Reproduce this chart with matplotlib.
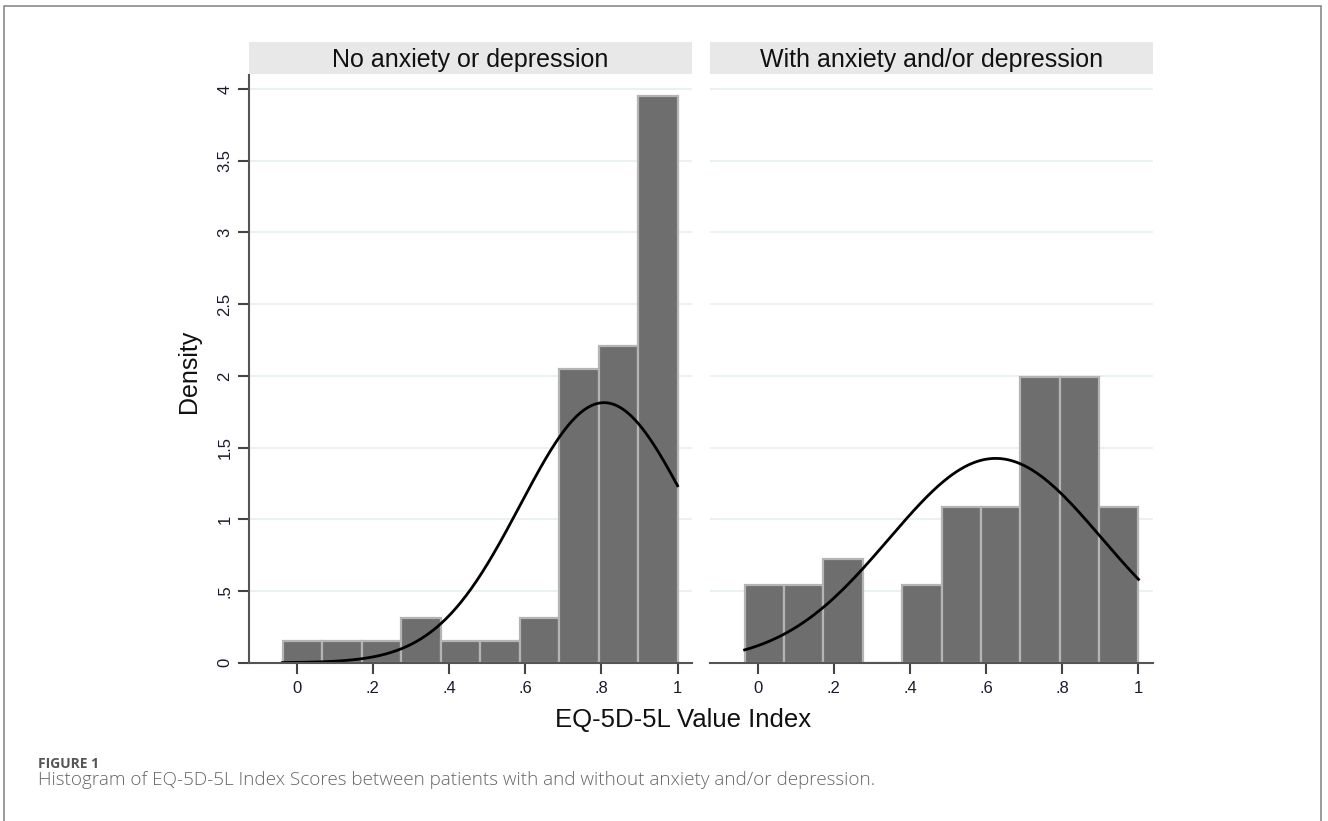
import numpy as np
import matplotlib.pyplot as plt
from matplotlib.patches import Rectangle

# histogram densities (10 bins each, from the sample minimum up to 1)
panels = ["No anxiety or depression", "With anxiety and/or depression"]
left_min = -0.037
left_density = [0.154, 0.154, 0.154, 0.309, 0.154, 0.154, 0.309, 2.05, 2.21, 3.95]
right_min = -0.034
right_density = [0.543, 0.543, 0.724, 0.0, 0.543, 1.086, 1.086, 1.99, 1.99, 1.086]
# normal curve parameters (mean, sd)
left_norm = (0.807, 0.22)
right_norm = (0.625, 0.28)

yticks = [0, 0.5, 1, 1.5, 2, 2.5, 3, 3.5, 4]
ytick_labels = ["0", ".5", "1", "1.5", "2", "2.5", "3", "3.5", "4"]
xticks = [0, 0.2, 0.4, 0.6, 0.8, 1]
xtick_labels = ["0", ".2", ".4", ".6", ".8", "1"]

plt.rcParams['font.family'] = ['Liberation Sans', 'DejaVu Sans']

fig = plt.figure(figsize=(13.28, 8.21), dpi=100)

# outer frame
fig.patches.append(Rectangle((0.003, -0.01), 0.9917, 1.003, transform=fig.transFigure,
                             fill=False, edgecolor="#8a8a8a", linewidth=1.2))

ax_w = 0.3336
ax_b, ax_h = 0.1928, 0.7158
lefts = [0.1875, 0.5346]
data = [(left_min, left_density, left_norm), (right_min, right_density, right_norm)]

for i, (title, (xmin, dens, (mu, sd))) in enumerate(zip(panels, data)):
    ax = fig.add_axes([lefts[i], ax_b, ax_w, ax_h])
    edges = np.linspace(xmin, 1.0, len(dens) + 1)
    ax.bar(edges[:-1], dens, width=np.diff(edges), align="edge",
           color="#6e6e6e", edgecolor="#b4b4b4", linewidth=1.6, zorder=2)
    xs = np.linspace(xmin, 1.0, 300)
    ys = np.exp(-(xs - mu) ** 2 / (2 * sd ** 2)) / (sd * np.sqrt(2 * np.pi))
    ax.plot(xs, ys, color="black", linewidth=2, zorder=3)

    ax.set_xlim(-0.125, 1.038)
    ax.set_ylim(0, 4.098)
    ax.set_yticks(yticks)
    for y in yticks[1:]:
        ax.axhline(y, color="#e4efed", linewidth=1.1, zorder=1)
    ax.set_xticks(xticks)
    ax.set_xticklabels(xtick_labels, fontsize=12, color="#1a1a2a")
    ax.tick_params(axis="x", length=8, width=1.5, color="#444444", pad=5)
    for s in ["top", "right"]:
        ax.spines[s].set_visible(False)
    ax.spines["bottom"].set_color("#555555")
    ax.spines["bottom"].set_linewidth(1.5)
    ax.spines["bottom"].set_zorder(4)
    if i == 0:
        ax.set_yticklabels(ytick_labels, fontsize=12, color="#1a1a2a",
                           rotation=90, va="center")
        ax.tick_params(axis="y", length=8, width=1.5, color="#444444", pad=4)
        ax.spines["left"].set_color("#555555")
        ax.spines["left"].set_linewidth(1.5)
    else:
        ax.spines["left"].set_visible(False)
        ax.tick_params(axis="y", length=0, labelleft=False)

    # panel header strip
    hx = fig.add_axes([lefts[i], 0.9099, ax_w, 0.039])
    hx.set_facecolor("#e8e8e8")
    hx.set_xticks([])
    hx.set_yticks([])
    for s in hx.spines.values():
        s.set_visible(False)
    hx.text(0.5, 0.45, title, ha="center", va="center", fontsize=18,
            color="#111111", transform=hx.transAxes)

fig.text(0.1425, 0.548, "Density", rotation=90, ha="center", va="center",
         fontsize=18, color="#111111")
fig.text(0.5145, 0.123, "EQ-5D-5L Value Index", ha="center", va="center",
         fontsize=18.5, color="#111111")

fig.text(0.0286, 0.0646, "FIGURE 1", fontsize=10, color="#555555",
         family="Open Sans", weight="bold", va="baseline")
fig.text(0.0286, 0.0438,
         "Histogram of EQ-5D-5L Index Scores between patients with and without anxiety and/or depression.",
         fontsize=13.6, color="#666666", family="Open Sans", weight="light", va="baseline")

fig.savefig("out.png", dpi=100)
